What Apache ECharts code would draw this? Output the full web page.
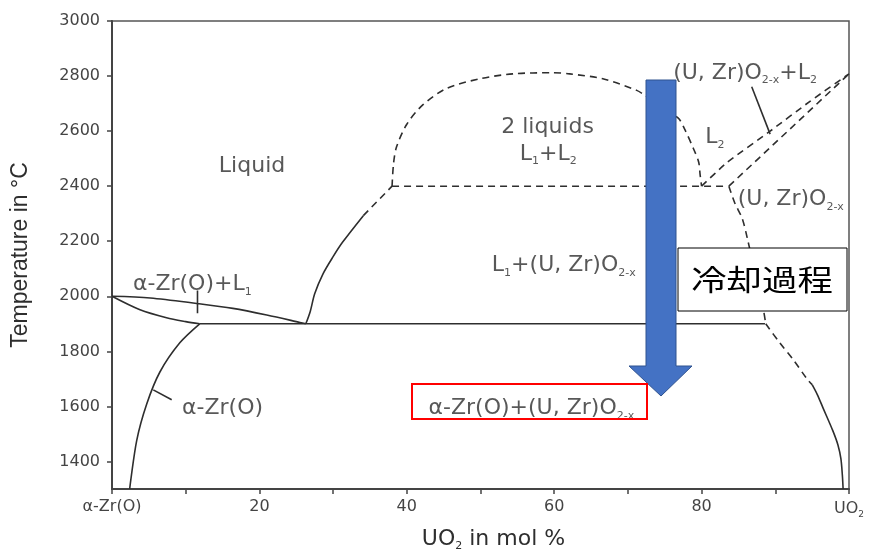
<!DOCTYPE html>
<html>
<head>
<meta charset="utf-8">
<script src="https://cdn.jsdelivr.net/npm/echarts@6/dist/echarts.min.js"></script>
<style>
html, body { margin: 0; padding: 0; background: #fff; }
#chart { width: 870px; height: 557px; }
</style>
</head>
<body>
<div id="chart"></div>
<script>
// axis ticks
var xTicks = [0, 10, 20, 30, 40, 50, 60, 70, 80, 90, 100];
var xLabels = [0, 20, 40, 60, 80, 100];
var yTicks = [1400, 1600, 1800, 2000, 2200, 2400, 2600, 2800, 3000];

// phase boundaries [UO2 mol %, temperature]
var zrLiquidus = [[0, 2000], [5.2, 1994], [11.5, 1974], [16.4, 1956], [21, 1932], [25.5, 1905], [26.3, 1900]];
var zrSolidus = [[0, 2000], [3.8, 1951], [7.4, 1922], [10, 1908], [11.9, 1900]];
var eutectic = [[11.9, 1900], [88.6, 1900]];
var zrSolvus = [[11.9, 1900], [9.2, 1831], [6.5, 1725], [4.7, 1608], [3.35, 1476], [2.4, 1300]];
var uoLiquidus = [[26.3, 1900], [26.9, 1945], [27.5, 2009], [28.6, 2080], [30, 2144], [31.3, 2197], [34.1, 2293]];
var uoLiquidusDash = [[34.1, 2293], [38, 2400]];
var dome = [[38, 2400], [38.2, 2482], [38.6, 2542], [40, 2625], [42.2, 2696], [45.4, 2755], [49.9, 2790],
    [54.4, 2808], [59.8, 2812], [62.1, 2808], [66.6, 2790], [71.2, 2748], [72.3, 2730], [76.8, 2648],
    [77.7, 2607], [78.9, 2536], [79.6, 2488], [79.8, 2441], [80, 2400]];
var monotectic = [[38, 2400], [83.6, 2400]];
var l2Liquidus = [[80, 2400], [83.4, 2485], [89.3, 2600], [94.7, 2708], [100, 2808]];
var oxSolidus = [[83.7, 2400], [100, 2808]];
var oxSolvusHigh = [[83.7, 2400], [84.5, 2339], [85.5, 2283], [86.2, 2211], [88.4, 1949], [88.7, 1900]];
var oxSolvusDash = [[88.7, 1900], [90.6, 1831], [92.4, 1771], [94.3, 1700], [95, 1679]];
var oxSolvusLow = [[95, 1679], [95.7, 1643], [96.5, 1593], [97.8, 1512], [98.5, 1460], [98.9, 1410], [99.1, 1350], [99.2, 1300]];

// leader lines
var leaderZrL1 = [[11.6, 2021], [11.6, 1938]];
var leaderZr = [[5.6, 1660], [8.1, 1624]];
var leaderOxL2 = [[86.8, 2761], [89.3, 2589]];

// region labels [x, y, text]
var regionLabels = [
    [19.0, 2496, '{a|Liquid}'],
    [59.1, 2638, '{a|2 liquids}'],
    [59.2, 2542, '{a|L}{s|1}{a|+L}{s|2}'],
    [61.3, 2137, '{a|L}{s|1}{a|+(U, Zr)O}{s|2-x}'],
    [81.8, 2602, '{a|L}{s|2}'],
    [85.9, 2837, '{a|(U, Zr)O}{s|2-x}{a|+L}{s|2}'],
    [92.1, 2378, '{a|(U, Zr)O}{s|2-x}'],
    [10.9, 2069, '{a|α-Zr(O)+L}{s|1}'],
    [15.0, 1618, '{a|α-Zr(O)}'],
    [56.9, 1618, '{a|α-Zr(O)+(U, Zr)O}{s|2-x}']
];

var FONT = 'DejaVu Sans';
var INK = '#2e2e2e';

function curve(data, dashed, smooth) {
    return {
        type: 'line',
        data: data,
        symbol: 'none',
        smooth: smooth || false,
        silent: true,
        lineStyle: {color: INK, width: 1.6, type: dashed ? [7, 5] : 'solid'},
        z: 3
    };
}

var chart = echarts.init(document.getElementById('chart'));

var option = {
    animation: false,
    grid: {left: 112, right: 21, top: 21, bottom: 58, show: true, borderColor: '#555', borderWidth: 1.5},
    xAxis: {
        type: 'value', min: 0, max: 100,
        name: '{a|UO}{s|2}{a| in mol %}',
        nameLocation: 'middle', nameGap: 37,
        nameTextStyle: {
            padding: [0, 0, 0, 26],
            rich: {
                a: {fontFamily: FONT, fontSize: 22, color: INK, lineHeight: 26},
                s: {fontFamily: FONT, fontSize: 11, color: INK, lineHeight: 16, verticalAlign: 'bottom'}
            }
        },
        axisLine: {lineStyle: {color: '#444', width: 2}},
        axisTick: {customValues: xTicks, length: 5, lineStyle: {color: '#444', width: 1.5}},
        axisLabel: {
            customValues: xLabels,
            margin: 10,
            fontFamily: FONT, fontSize: 16, color: '#444',
            formatter: function (v) {
                if (v === 0) return 'α-Zr(O)';
                if (v === 100) return '{a|UO}{s|2}';
                return String(v);
            },
            rich: {
                a: {fontFamily: FONT, fontSize: 16, color: '#444', lineHeight: 20},
                s: {fontFamily: FONT, fontSize: 9, color: '#444', lineHeight: 12, verticalAlign: 'bottom'}
            }
        },
        splitLine: {show: false}
    },
    yAxis: {
        type: 'value', min: 1300, max: 3000,
        name: 'Temperature in °C',
        nameLocation: 'middle', nameGap: 80,
        nameTextStyle: {fontFamily: 'Liberation Sans', fontSize: 23, color: INK},
        axisLine: {show: true, lineStyle: {color: '#444', width: 2}},
        axisTick: {show: true, customValues: yTicks, length: 5, lineStyle: {color: '#444', width: 1.5}},
        axisLabel: {
            customValues: yTicks, margin: 12, fontFamily: FONT, fontSize: 16, color: '#444',
            formatter: function (v) { return String(v); }
        },
        splitLine: {show: false}
    },
    series: [
        curve(zrLiquidus, false, 0.3),
        curve(zrSolidus, false, 0.3),
        curve(eutectic, false),
        curve(zrSolvus, false, 0.3),
        curve(uoLiquidus, false, 0.3),
        curve(uoLiquidusDash, true),
        curve(dome, true, 0.3),
        curve(monotectic, true),
        curve(l2Liquidus, true, 0.2),
        curve(oxSolidus, true),
        curve(oxSolvusHigh, true, 0.3),
        curve(oxSolvusDash, true, 0.3),
        curve(oxSolvusLow, false, 0.3),
        curve(leaderZrL1, false),
        curve(leaderZr, false),
        curve(leaderOxL2, false),
        {
            type: 'scatter',
            data: regionLabels,
            symbolSize: 0,
            silent: true,
            z: 4,
            label: {
                show: true,
                position: [0, 0],
                offset: [0, 7],
                align: 'center',
                verticalAlign: 'middle',
                formatter: function (p) { return p.data[2]; },
                rich: {
                    a: {fontFamily: FONT, fontSize: 22, color: INK, lineHeight: 26},
                    s: {fontFamily: FONT, fontSize: 11, color: INK, lineHeight: 16, verticalAlign: 'bottom'}
                }
            }
        }
    ],
    graphic: [
        {
            type: 'polygon', z: 100,
            shape: {points: [[646, 80], [676, 80], [676, 366], [692, 366], [661, 396], [629, 366], [646, 366]]},
            style: {fill: '#4472C4', stroke: '#2F528F', lineWidth: 1}
        },
        {
            type: 'rect', z: 100,
            shape: {x: 678, y: 248, width: 169, height: 63},
            style: {fill: '#fff', stroke: '#000', lineWidth: 1}
        },
        {
            type: 'text', z: 101,
            x: 762, y: 280, scaleX: 1.22,
            style: {
                text: '冷却過程', fill: '#000',
                font: '29px "Noto Sans CJK JP"',
                textAlign: 'center', textVerticalAlign: 'middle'
            }
        },
        {
            type: 'rect', z: 100,
            shape: {x: 412, y: 384, width: 235, height: 35},
            style: {fill: 'rgba(0,0,0,0)', stroke: '#FF0000', lineWidth: 2}
        }
    ]
};

chart.setOption(option);
</script>
</body>
</html>
